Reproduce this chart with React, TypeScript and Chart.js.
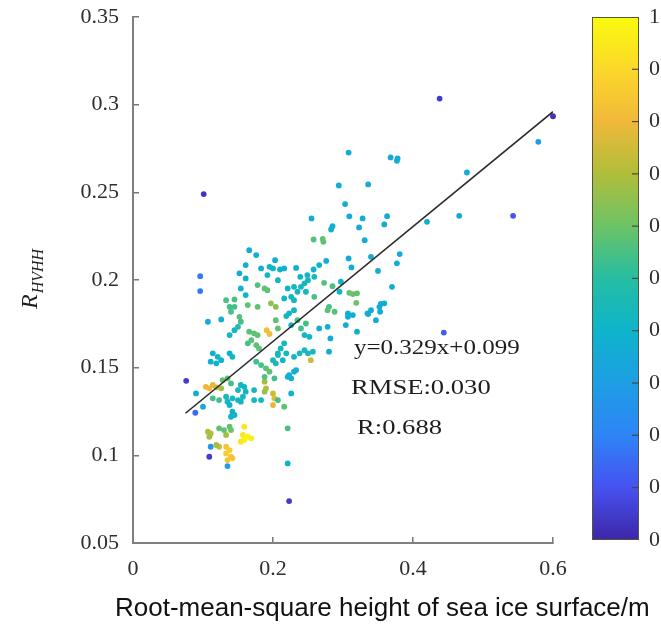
import React, { useEffect, useRef } from 'react';
import { Chart, registerables } from 'chart.js';

Chart.register(...registerables);

// ---------- data ----------
const pointX = [
  0.101, 0.438, 0.600, 0.579, 0.477, 0.543, 0.466, 0.420, 0.444, 0.096,
  0.096, 0.076, 0.089, 0.109, 0.111, 0.223, 0.135, 0.221, 0.221, 0.226,
  0.308, 0.368, 0.378, 0.377, 0.294, 0.336, 0.303, 0.255, 0.309, 0.328,
  0.323, 0.363, 0.359, 0.285, 0.283, 0.258, 0.271, 0.272, 0.331, 0.308,
  0.312, 0.340, 0.381, 0.377, 0.350, 0.370, 0.354, 0.359, 0.276, 0.266,
  0.258, 0.249, 0.239, 0.233, 0.250, 0.259, 0.273, 0.285, 0.297, 0.309,
  0.314, 0.320, 0.319, 0.295, 0.221, 0.230, 0.240, 0.245, 0.247, 0.235,
  0.226, 0.216, 0.230, 0.259, 0.280, 0.216, 0.307, 0.335, 0.340, 0.352,
  0.278, 0.288, 0.166, 0.176, 0.161, 0.203, 0.183, 0.195, 0.200, 0.152,
  0.154, 0.161, 0.192, 0.207, 0.178, 0.188, 0.192, 0.161, 0.133, 0.145,
  0.138, 0.145, 0.164, 0.178, 0.197, 0.204, 0.210, 0.107, 0.126, 0.140,
  0.152, 0.154, 0.150, 0.138, 0.145, 0.166, 0.173, 0.178, 0.169, 0.164,
  0.176, 0.180, 0.191, 0.195, 0.204, 0.207, 0.114, 0.111, 0.121, 0.126,
  0.138, 0.142, 0.119, 0.176, 0.183, 0.190, 0.195, 0.200, 0.204, 0.207,
  0.104, 0.109, 0.114, 0.119, 0.126, 0.128, 0.135, 0.140, 0.090, 0.114,
  0.123, 0.133, 0.135, 0.142, 0.150, 0.154, 0.159, 0.161, 0.157, 0.150,
  0.154, 0.173, 0.183, 0.173, 0.188, 0.190, 0.188, 0.200, 0.202, 0.200,
  0.207, 0.100, 0.138, 0.142, 0.140, 0.145, 0.107, 0.111, 0.109, 0.123,
  0.130, 0.138, 0.140, 0.133, 0.159, 0.157, 0.159, 0.164, 0.169, 0.154,
  0.133, 0.138, 0.133, 0.140, 0.135, 0.142, 0.123, 0.119, 0.216, 0.223,
  0.230, 0.226, 0.233, 0.254, 0.250, 0.257, 0.245, 0.238, 0.230, 0.219,
  0.216, 0.214, 0.280, 0.282, 0.266, 0.278, 0.304, 0.307, 0.314, 0.320,
  0.336, 0.347, 0.353, 0.245, 0.252, 0.240, 0.247, 0.235, 0.219, 0.226,
  0.211, 0.207, 0.188, 0.202, 0.221, 0.223, 0.230
];

const pointY = [
  0.2490, 0.3035, 0.2934, 0.2788, 0.2613, 0.2366, 0.2366, 0.2332, 0.1700, 0.2022,
  0.1937, 0.1425, 0.1243, 0.0992, 0.1049, 0.0739, 0.0939, 0.0954, 0.1154, 0.1353,
  0.2727, 0.2699, 0.2693, 0.2680, 0.2539, 0.2545, 0.2433, 0.2351, 0.2363, 0.2351,
  0.2300, 0.2364, 0.2317, 0.2307, 0.2288, 0.2231, 0.2235, 0.2218, 0.2227, 0.2123,
  0.2072, 0.2132, 0.2148, 0.2095, 0.2052, 0.1961, 0.1863, 0.1867, 0.2109, 0.2085,
  0.2060, 0.2028, 0.2018, 0.2069, 0.1999, 0.2018, 0.1984, 0.1965, 0.1990, 0.1927,
  0.1920, 0.1924, 0.1870, 0.1933, 0.1952, 0.1961, 0.1961, 0.1981, 0.1933, 0.1933,
  0.1904, 0.1895, 0.1885, 0.1904, 0.1847, 0.2066, 0.1810, 0.1810, 0.1828, 0.1847,
  0.1828, 0.1819, 0.2170, 0.2142, 0.2085, 0.2113, 0.2066, 0.2075, 0.2066, 0.2038,
  0.1952, 0.2009, 0.2028, 0.1999, 0.1971, 0.1952, 0.1942, 0.1914, 0.1885, 0.1889,
  0.1847, 0.1847, 0.1857, 0.1847, 0.1867, 0.1847, 0.2060, 0.1762, 0.1775, 0.1819,
  0.1790, 0.1762, 0.1733, 0.1686, 0.1714, 0.1705, 0.1696, 0.1686, 0.1657, 0.1639,
  0.1629, 0.1610, 0.1714, 0.1692, 0.1771, 0.1724, 0.1582, 0.1534, 0.1562, 0.1543,
  0.1582, 0.1562, 0.1525, 0.1534, 0.1515, 0.1496, 0.1477, 0.1543, 0.1525, 0.1582,
  0.1391, 0.1382, 0.1401, 0.1388, 0.1382, 0.1429, 0.1439, 0.1410, 0.1353, 0.1325,
  0.1315, 0.1334, 0.1306, 0.1325, 0.1372, 0.1401, 0.1391, 0.1363, 0.1334, 0.1315,
  0.1306, 0.1372, 0.1315, 0.1315, 0.1420, 0.1382, 0.1363, 0.1353, 0.1325, 0.1287,
  0.1315, 0.1277, 0.1287, 0.1249, 0.1220, 0.1230, 0.1135, 0.1125, 0.1106, 0.1154,
  0.1144, 0.1163, 0.1144, 0.1116, 0.1163, 0.1116, 0.1087, 0.1106, 0.1097, 0.1078,
  0.1049, 0.1030, 0.1011, 0.0992, 0.0973, 0.0983, 0.1049, 0.1059, 0.1277, 0.1458,
  0.1477, 0.1439, 0.1486, 0.1543, 0.1582, 0.1591, 0.1600, 0.1582, 0.1562, 0.1582,
  0.1639, 0.1543, 0.1591, 0.1667, 0.1724, 0.1733, 0.1743, 0.1790, 0.1800, 0.1705,
  0.1806, 0.1771, 0.1819, 0.1686, 0.1676, 0.1724, 0.1752, 0.1771, 0.1794, 0.1743,
  0.1610, 0.1572, 0.1448, 0.1439, 0.1448, 0.1810, 0.1828
];

// relative point density (colour scale 0..1)
const pointDensity = [
  0.03, 0.05, 0.03, 0.30, 0.36, 0.10, 0.34, 0.36, 0.12, 0.18,
  0.18, 0.05, 0.15, 0.05, 0.26, 0.05, 0.30, 0.38, 0.55, 0.38,
  0.36, 0.36, 0.36, 0.36, 0.36, 0.36, 0.36, 0.36, 0.36, 0.36,
  0.36, 0.36, 0.36, 0.38, 0.38, 0.56, 0.58, 0.58, 0.36, 0.36,
  0.36, 0.37, 0.36, 0.36, 0.37, 0.36, 0.37, 0.37, 0.38, 0.40,
  0.40, 0.40, 0.40, 0.38, 0.42, 0.42, 0.57, 0.55, 0.40, 0.58,
  0.60, 0.58, 0.60, 0.41, 0.41, 0.43, 0.43, 0.43, 0.43, 0.43,
  0.43, 0.42, 0.43, 0.55, 0.55, 0.38, 0.38, 0.37, 0.37, 0.37,
  0.57, 0.57, 0.37, 0.37, 0.37, 0.37, 0.38, 0.40, 0.40, 0.37,
  0.38, 0.38, 0.42, 0.42, 0.56, 0.58, 0.58, 0.42, 0.55, 0.55,
  0.54, 0.54, 0.58, 0.58, 0.66, 0.64, 0.40, 0.37, 0.38, 0.55,
  0.57, 0.54, 0.50, 0.42, 0.42, 0.57, 0.58, 0.58, 0.58, 0.54,
  0.58, 0.58, 0.82, 0.82, 0.58, 0.58, 0.38, 0.38, 0.40, 0.40,
  0.40, 0.40, 0.40, 0.54, 0.54, 0.58, 0.58, 0.46, 0.44, 0.44,
  0.80, 0.80, 0.78, 0.74, 0.68, 0.58, 0.58, 0.54, 0.36, 0.54,
  0.54, 0.46, 0.42, 0.42, 0.42, 0.42, 0.42, 0.42, 0.42, 0.42,
  0.42, 0.42, 0.42, 0.42, 0.68, 0.70, 0.68, 0.74, 0.78, 0.78,
  0.54, 0.37, 0.40, 0.40, 0.40, 0.40, 0.70, 0.70, 0.68, 0.58,
  0.58, 0.58, 0.60, 0.68, 0.94, 0.94, 0.98, 0.98, 0.96, 0.94,
  0.84, 0.87, 0.87, 0.84, 0.84, 0.84, 0.74, 0.68, 0.58, 0.38,
  0.38, 0.38, 0.38, 0.74, 0.44, 0.44, 0.44, 0.44, 0.42, 0.42,
  0.42, 0.42, 0.37, 0.37, 0.38, 0.38, 0.37, 0.37, 0.37, 0.37,
  0.36, 0.36, 0.36, 0.42, 0.42, 0.54, 0.54, 0.54, 0.42, 0.42,
  0.42, 0.44, 0.56, 0.54, 0.38, 0.42, 0.42
];

// regression line y = 0.329x + 0.099, endpoints
const fitX = [0.075, 0.6];
const fitY = [0.124, 0.296];

const xTickValues = [0, 0.2, 0.4, 0.6];
const xTickLabels = ['0', '0.2', '0.4', '0.6'];
const yTickValues = [0.05, 0.1, 0.15, 0.2, 0.25, 0.3, 0.35];
const yTickLabels = ['0.05', '0.1', '0.15', '0.2', '0.25', '0.3', '0.35'];
const cbTickValues = [0, 0.1, 0.2, 0.3, 0.4, 0.5, 0.6, 0.7, 0.8, 0.9, 1];
const cbTickLabels = ['0', '0.1', '0.2', '0.3', '0.4', '0.5', '0.6', '0.7', '0.8', '0.9', '1'];

const annotationLines = ['y=0.329x+0.099', 'RMSE:0.030', 'R:0.688'];
const xAxisTitle = 'Root-mean-square height of sea ice surface/m';
const yAxisTitleMain = 'R';
const yAxisTitleSub = 'HVHH';

// ---------- colour map (parula-like) ----------
const PARULA: number[][] = [
  [62, 38, 168], [70, 82, 240], [46, 132, 246], [30, 158, 228], [14, 180, 203],
  [38, 189, 162], [108, 195, 102], [176, 190, 58], [240, 184, 58], [252, 216, 42], [249, 251, 14]
];
function parula(t: number): string {
  const v = Math.max(0, Math.min(1, t)) * (PARULA.length - 1);
  const i = Math.min(PARULA.length - 2, Math.floor(v));
  const f = v - i;
  const a = PARULA[i], b = PARULA[i + 1];
  const c = a.map((x, k) => Math.round(x + (b[k] - x) * f));
  return `rgb(${c[0]},${c[1]},${c[2]})`;
}

const SERIF = '"Liberation Serif", "Times New Roman", serif';
const SANS = '"Liberation Sans", Arial, sans-serif';

const noPad = (s: any) => {
  s.paddingTop = 0;
  s.paddingBottom = 0;
  s.paddingLeft = 0;
  s.paddingRight = 0;
};

const decorPlugin = {
  id: 'decor',
  beforeDatasetsDraw(chart: any) {
    const { ctx } = chart;
    const cb = chart.scales.cb;
    const top = cb.getPixelForValue(1);
    const bottom = cb.getPixelForValue(0);
    const left = 592;
    const width = 47;
    ctx.save();
    const g = ctx.createLinearGradient(0, bottom, 0, top);
    PARULA.forEach((c, i) => g.addColorStop(i / (PARULA.length - 1), `rgb(${c[0]},${c[1]},${c[2]})`));
    ctx.fillStyle = g;
    ctx.fillRect(left, top, width, bottom - top);
    ctx.strokeStyle = '#55553f';
    ctx.lineWidth = 1;
    ctx.strokeRect(left + 0.5, top + 0.5, width - 1, bottom - top - 1);
    ctx.strokeStyle = '#4a4a30';
    ctx.lineWidth = 1.2;
    cbTickValues.forEach((v) => {
      if (v === 0 || v === 1) return;
      const y = cb.getPixelForValue(v);
      ctx.beginPath();
      ctx.moveTo(left + width - 7, y);
      ctx.lineTo(left + width, y);
      ctx.stroke();
    });
    ctx.restore();
  },
  afterDraw(chart: any) {
    const { ctx } = chart;
    ctx.save();
    // annotations
    ctx.fillStyle = '#1e1e1e';
    ctx.font = `20px ${SERIF}`;
    ctx.textBaseline = 'alphabetic';
    ctx.textAlign = 'left';
    const pos = [[354, 354], [351, 394], [357, 434]];
    const sx = [1.25, 1.33, 1.33];
    annotationLines.forEach((t, i) => {
      ctx.save();
      ctx.translate(pos[i][0], pos[i][1]);
      ctx.scale(sx[i], 1);
      ctx.fillText(t, 0, 0);
      ctx.restore();
    });
    // y-axis title with subscript
    ctx.save();
    ctx.translate(37, 309);
    ctx.rotate(-Math.PI / 2);
    ctx.font = `italic 24px ${SERIF}`;
    ctx.fillText(yAxisTitleMain, 0, 0);
    const w = ctx.measureText(yAxisTitleMain).width;
    ctx.font = `italic 16px ${SERIF}`;
    ctx.fillText(yAxisTitleSub, w + 1, 6);
    ctx.restore();
    // bottom title
    ctx.fillStyle = '#111';
    ctx.font = `26px ${SANS}`;
    ctx.fillText(xAxisTitle, 115, 616);
    ctx.restore();
  }
};

export default function App() {
  const canvasRef = useRef<HTMLCanvasElement | null>(null);

  useEffect(() => {
    const canvas = canvasRef.current;
    if (!canvas) return;
    const scatterData = pointX.map((x, i) => ({ x, y: pointY[i] }));
    const fitData = fitX.map((x, i) => ({ x, y: fitY[i] }));
    const tickFont = { family: SERIF, size: 22 };

    const chart = new Chart(canvas, {
      type: 'scatter',
      data: {
        datasets: [
          {
            type: 'line',
            data: fitData,
            borderColor: '#2a2a2a',
            borderWidth: 1.6,
            pointRadius: 0,
            fill: false,
            order: 0
          } as any,
          {
            type: 'scatter',
            data: scatterData,
            backgroundColor: pointDensity.map(parula),
            pointRadius: 2.9,
            pointBorderWidth: 0,
            borderWidth: 0,
            clip: false,
            order: 1
          } as any
        ]
      },
      options: {
        animation: false,
        responsive: false,
        devicePixelRatio: 1,
        layout: { padding: { top: 17, left: 0, right: 0, bottom: 0 } },
        plugins: { legend: { display: false }, tooltip: { enabled: false } },
        scales: {
          x: {
            type: 'linear',
            position: 'bottom',
            min: 0,
            max: 0.6,
            afterBuildTicks: (s: any) => { s.ticks = xTickValues.map((v) => ({ value: v })); },
            afterFit: (s: any) => { s.height = 84; noPad(s); },
            ticks: {
              autoSkip: false,
              maxRotation: 0,
              padding: 19,
              font: tickFont,
              color: '#2e2e2e',
              callback: (_v: any, i: number) => xTickLabels[i]
            },
            grid: { drawOnChartArea: false, drawTicks: true, tickLength: -6, color: '#777', lineWidth: 1.5 },
            border: { display: true, color: '#808080', width: 2 }
          },
          y: {
            type: 'linear',
            position: 'left',
            min: 0.05,
            max: 0.35,
            afterBuildTicks: (s: any) => { s.ticks = yTickValues.map((v) => ({ value: v })); },
            afterFit: (s: any) => { s.width = 133; noPad(s); },
            ticks: {
              autoSkip: false,
              padding: 20,
              font: tickFont,
              color: '#2e2e2e',
              callback: (_v: any, i: number) => yTickLabels[i]
            },
            grid: { drawOnChartArea: false, drawTicks: true, tickLength: -6, color: '#777', lineWidth: 1.5 },
            border: { display: true, color: '#808080', width: 2 }
          },
          cb: {
            type: 'linear',
            position: 'right',
            min: -0.006,
            max: 1,
            afterBuildTicks: (s: any) => { s.ticks = cbTickValues.map((v) => ({ value: v })); },
            afterFit: (s: any) => { s.width = 108; noPad(s); },
            ticks: {
              autoSkip: false,
              padding: 96,
              font: tickFont,
              color: '#2e2e2e',
              callback: (_v: any, i: number) => cbTickLabels[i]
            },
            grid: { display: false, drawTicks: false },
            border: { display: false }
          }
        }
      } as any,
      plugins: [decorPlugin]
    });
    return () => chart.destroy();
  }, []);

  return (
    <div style={{ position: 'fixed', left: 0, top: 0, width: 661, height: 627, background: '#fff' }}>
      <canvas ref={canvasRef} width={661} height={627} />
    </div>
  );
}
